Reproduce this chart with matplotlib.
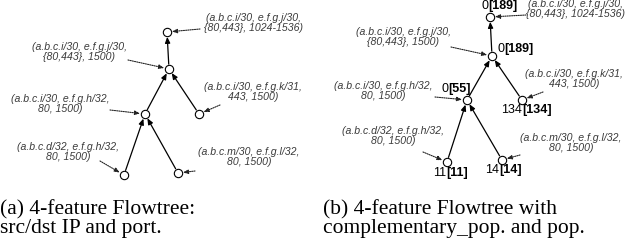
import matplotlib
matplotlib.use("Agg")
import matplotlib.pyplot as plt

# ---------------- data ----------------
node_ids = ["root", "mid", "left", "right", "bl", "br"]
parents = [None, "root", "mid", "mid", "left", "left"]
label_l1 = ["(a.b.c.i/30, e.f.g.j/30,", "(a.b.c.i/30, e.f.g.j/30,", "(a.b.c.i/30, e.f.g.h/32,",
            "(a.b.c.i/30, e.f.g.k/31,", "(a.b.c.d/32, e.f.g.h/32,", "(a.b.c.m/30, e.f.g.l/32,"]
label_l2 = ["{80,443}, 1024-1536)", "{80,443}, 1500)", "80, 1500)",
            "443, 1500)", "80, 1500)", "80, 1500)"]
comp_pop = [0, 0, 0, 134, 11, 14]
pop = [189, 189, 55, 134, 11, 14]
captions = ["(a) 4-feature Flowtree:\nsrc/dst IP and port.",
            "(b) 4-feature Flowtree with\ncomplementary_pop. and pop."]

# ---------------- layout (pixel coords) ----------------
layout_a = {
    "node": {"root": (167, 32), "mid": (169, 69), "left": (145, 114), "right": (199, 114),
             "bl": (124, 175), "br": (178, 173)},
    "label": {"root": (253, 23), "mid": (79, 52), "left": (60, 104), "right": (253, 92),
              "bl": (68, 152), "br": (249, 157)},
    "ptr": {"root": (200, 29), "mid": (128, 60), "left": (110, 110), "right": (220, 105),
            "bl": (100, 161), "br": (195, 171)},
}
layout_b = {
    "node": {"root": (490, 17), "mid": (492, 56), "left": (467, 100), "right": (522, 100),
             "bl": (447, 162), "br": (502, 160)},
    "label": {"root": (576, 9), "mid": (403, 37), "left": (383, 91), "right": (574, 79),
              "bl": (393, 136), "br": (571, 143)},
    "ptr": {"root": (526, 15), "mid": (451, 47), "left": (435, 97), "right": (543, 92),
            "bl": (423, 152), "br": (520, 155)},
    "count": {"root": (488, 6), "mid": (504, 49), "left": (448, 89), "right": (522, 110),
              "bl": (446, 173), "br": (499, 170)},
}

W, H = 626, 243
fig = plt.figure(figsize=(W / 100, H / 100), dpi=100)
ax = fig.add_axes([0, 0, 1, 1])
ax.set_xlim(0, W)
ax.set_ylim(H, 0)
ax.axis("off")

lab_font = dict(family="Liberation Sans", style="italic", fontsize=7.6, color="#3a3a3a")


def draw_tree(lay, with_counts):
    nd = lay["node"]
    for nid, par in zip(node_ids, parents):
        if par is None:
            continue
        ax.annotate("", xy=nd[par], xytext=nd[nid],
                    arrowprops=dict(arrowstyle="-|>,head_length=0.35,head_width=0.15",
                                    color="black", lw=0.9, shrinkA=3.5, shrinkB=3.5))
    for i, nid in enumerate(node_ids):
        ax.plot(*nd[nid], "o", ms=6, mfc="white", mec="black", mew=0.8, zorder=5)
        lx, ly = lay["label"][nid]
        ax.text(lx, ly, label_l1[i] + "\n" + label_l2[i], ha="center", va="center",
                linespacing=0.95, **lab_font)
        ax.annotate("", xy=nd[nid], xytext=lay["ptr"][nid],
                    arrowprops=dict(arrowstyle="-|>,head_length=0.3,head_width=0.12",
                                    color="#222222", lw=0.8, ls=(0, (1, 1)),
                                    shrinkA=0, shrinkB=3.5))
        if with_counts:
            cx, cy = lay["count"][nid]
            ax.text(cx, cy, str(comp_pop[i]), ha="right", va="center",
                    family="Liberation Sans", fontsize=9, color="black")
            ax.text(cx, cy, "[" + str(pop[i]) + "]", ha="left", va="center",
                    family="Liberation Sans", fontsize=9, fontweight="bold", color="black")


draw_tree(layout_a, False)
draw_tree(layout_b, True)

cap_font = dict(family="Liberation Serif", fontsize=15.5, linespacing=0.95,
                ha="left", va="center")
ax.text(0, 219, captions[0], **cap_font)
ax.text(323, 219, captions[1], **cap_font)

fig.savefig("out.png", dpi=100)
